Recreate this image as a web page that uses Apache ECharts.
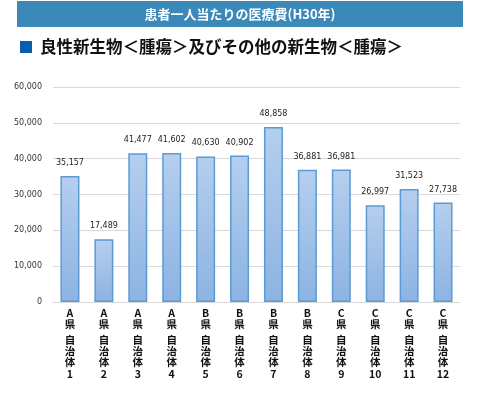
<!DOCTYPE html>
<html><head><meta charset="utf-8">
<script src="https://cdn.jsdelivr.net/npm/echarts@6/dist/echarts.min.js"></script>
<style>html,body{margin:0;padding:0;background:#fff;}#c{width:480px;height:397px;}</style>
</head><body><div id="c"></div>
<script>
const title = '患者一人当たりの医療費(H30年)';
const subtitle = '良性新生物＜腫瘍＞及びその他の新生物＜腫瘍＞';
const prefectures = ['A','A','A','A','B','B','B','B','C','C','C','C'];
const municipalities = ['1','2','3','4','5','6','7','8','9','10','11','12'];
const values = [35157,17489,41477,41602,40630,40902,48858,36881,36981,26997,31523,27738];
const yTicks = [0,10000,20000,30000,40000,50000,60000];

const categories = prefectures.map((p,i)=>p+'県自治体'+municipalities[i]);
const chart = echarts.init(document.getElementById('c'));
const font = '"Noto Sans CJK JP", "Noto Sans", sans-serif';
chart.setOption({
  animation:false,
  graphic:[
    {type:'rect',shape:{x:17,y:1,width:446,height:26},style:{fill:'#3b89b9'}},
    {type:'text',x:240,y:14,style:{text:title,fill:'#fff',font:'bold 13px '+font,textAlign:'center',textVerticalAlign:'middle'}},
    {type:'rect',shape:{x:20,y:41,width:12,height:12},style:{fill:'#0b5cad'}},
    {type:'text',x:40,y:47,style:{text:subtitle,fill:'#111',font:'bold 16.5px '+font,textVerticalAlign:'middle'}}
  ],
  grid:{left:53,right:20,top:87,bottom:95},
  xAxis:{
    type:'category',data:categories,
    axisLine:{lineStyle:{color:'#d9d9d9'}},
    axisTick:{show:false},
    axisLabel:{
      interval:0,margin:5,
      formatter:(v,i)=>'{t|'+prefectures[i]+'}\n{t|県}\n{g| }\n{t|自}\n{t|治}\n{t|体}\n{t|'+municipalities[i]+'}',
      rich:{
        t:{fontSize:10.5,fontWeight:'bold',lineHeight:11.2,color:'#111',fontFamily:font},
        g:{fontSize:5,lineHeight:5}
      }
    }
  },
  yAxis:{
    type:'value',min:yTicks[0],max:yTicks[yTicks.length-1],interval:10000,
    axisLine:{show:false},axisTick:{show:false},
    splitLine:{lineStyle:{color:'#d9d9d9',width:1}},
    axisLabel:{formatter:v=>v.toLocaleString('en-US'),fontSize:8,color:'#333',margin:11,fontFamily:'Verdana, "DejaVu Sans", sans-serif'}
  },
  series:[{
    type:'bar',data:values,barWidth:19,
    itemStyle:{
      color:new echarts.graphic.LinearGradient(0,0,0,1,[{offset:0,color:'#b5cfee'},{offset:1,color:'#8cb3e2'}]),
      borderColor:'#5b9bd5',borderWidth:1.5
    },
    label:{show:true,position:'top',distance:9,fontSize:8,color:'#222',fontFamily:'Verdana, "DejaVu Sans", sans-serif',
      formatter:p=>p.value.toLocaleString('en-US')}
  }]
});
</script></body></html>
